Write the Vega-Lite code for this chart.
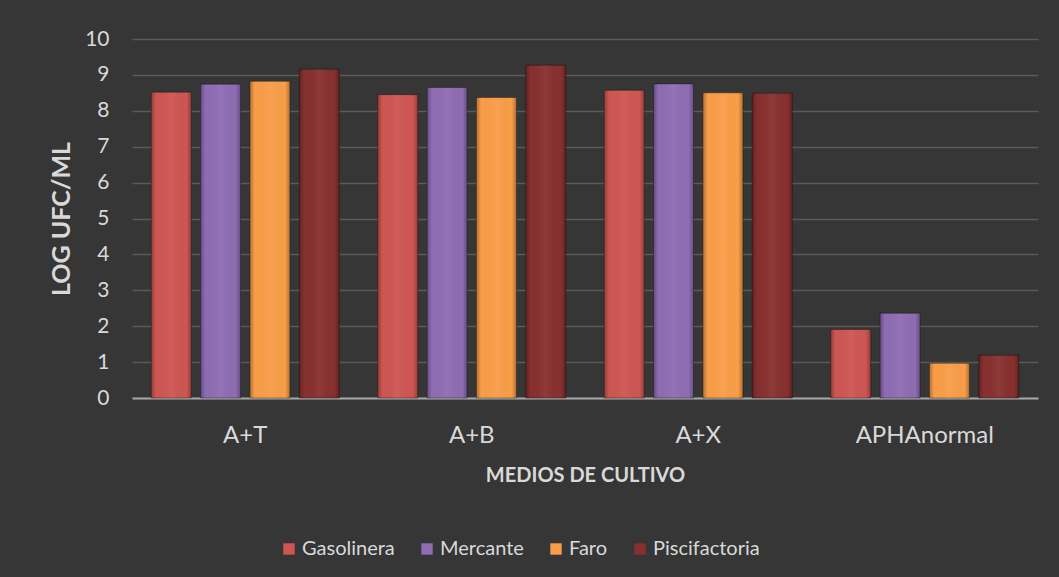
{
  "$schema": "https://vega.github.io/schema/vega-lite/v6.json",
  "width": 906,
  "height": 359,
  "autosize": {"type": "none"},
  "padding": {"left": 132, "top": 39, "right": 21, "bottom": 179},
  "background": "#363636",
  "config": {
    "view": {"stroke": null},
    "font": "Lato"
  },
  "data": {
    "values": [
      {"medio": "A+T", "sitio": "Gasolinera", "valor": 8.52},
      {"medio": "A+T", "sitio": "Mercante", "valor": 8.74},
      {"medio": "A+T", "sitio": "Faro", "valor": 8.82},
      {"medio": "A+T", "sitio": "Piscifactoria", "valor": 9.16},
      {"medio": "A+B", "sitio": "Gasolinera", "valor": 8.45},
      {"medio": "A+B", "sitio": "Mercante", "valor": 8.65},
      {"medio": "A+B", "sitio": "Faro", "valor": 8.37},
      {"medio": "A+B", "sitio": "Piscifactoria", "valor": 9.27},
      {"medio": "A+X", "sitio": "Gasolinera", "valor": 8.57},
      {"medio": "A+X", "sitio": "Mercante", "valor": 8.75},
      {"medio": "A+X", "sitio": "Faro", "valor": 8.50},
      {"medio": "A+X", "sitio": "Piscifactoria", "valor": 8.49},
      {"medio": "APHAnormal", "sitio": "Gasolinera", "valor": 1.91},
      {"medio": "APHAnormal", "sitio": "Mercante", "valor": 2.36},
      {"medio": "APHAnormal", "sitio": "Faro", "valor": 0.97},
      {"medio": "APHAnormal", "sitio": "Piscifactoria", "valor": 1.19}
    ]
  },
  "encoding": {
    "x": {
      "field": "medio",
      "type": "nominal",
      "sort": ["A+T", "A+B", "A+X", "APHAnormal"],
      "scale": {"paddingInner": 0.17, "paddingOuter": 0.085},
      "title": "MEDIOS DE CULTIVO",
      "axis": {
        "labelAngle": 0,
        "labelFontSize": 24,
        "labelColor": "#d9d9d9",
        "labelPadding": 25,
        "ticks": false,
        "domainColor": "#a6a6a6",
        "domainWidth": 2,
        "titleFontSize": 20,
        "titleFontWeight": "bold",
        "titleColor": "#d9d9d9",
        "titlePadding": 18
      }
    },
    "xOffset": {
      "field": "sitio",
      "sort": ["Gasolinera", "Mercante", "Faro", "Piscifactoria"],
      "scale": {"paddingInner": 0.19, "paddingOuter": 0}
    },
    "y": {
      "field": "valor",
      "type": "quantitative",
      "scale": {"domain": [0, 10]},
      "title": "LOG UFC/ML",
      "axis": {
        "values": [0, 1, 2, 3, 4, 5, 6, 7, 8, 9, 10],
        "labelFontSize": 21,
        "labelColor": "#d9d9d9",
        "labelPadding": 23,
        "ticks": false,
        "domain": false,
        "gridColor": "#5a5a5a",
        "gridWidth": 1.5,
        "titleFontSize": 25,
        "titleFontWeight": "bold",
        "titleColor": "#d9d9d9",
        "titlePadding": 10
      }
    }
  },
  "layer": [
    {
      "mark": {"type": "bar", "stroke": "#000000", "strokeOpacity": 0.35, "strokeWidth": 1},
      "encoding": {
        "color": {
          "field": "sitio",
          "type": "nominal",
          "sort": ["Gasolinera", "Mercante", "Faro", "Piscifactoria"],
          "scale": {
            "domain": ["Gasolinera", "Mercante", "Faro", "Piscifactoria"],
            "range": ["#cd5652", "#8e6cb3", "#f99d48", "#87302f"]
          },
          "legend": {
            "orient": "none",
            "legendX": 147,
            "legendY": 500,
            "direction": "horizontal",
            "title": null,
            "labelFontSize": 20,
            "labelColor": "#d9d9d9",
            "symbolType": "square",
            "symbolSize": 130,
            "symbolStrokeWidth": 0,
            "symbolOpacity": 1,
            "labelOffset": 3,
            "columnPadding": 22
          }
        }
      }
    },
    {
      "mark": {
        "type": "bar",
        "fill": {
          "gradient": "linear",
          "x1": 0, "x2": 1, "y1": 0, "y2": 0,
          "stops": [
            {"offset": 0, "color": "rgba(0,0,0,0.28)"},
            {"offset": 0.12, "color": "rgba(0,0,0,0)"},
            {"offset": 0.5, "color": "rgba(255,255,255,0.05)"},
            {"offset": 0.88, "color": "rgba(0,0,0,0)"},
            {"offset": 1, "color": "rgba(0,0,0,0.28)"}
          ]
        }
      }
    }
  ]
}
